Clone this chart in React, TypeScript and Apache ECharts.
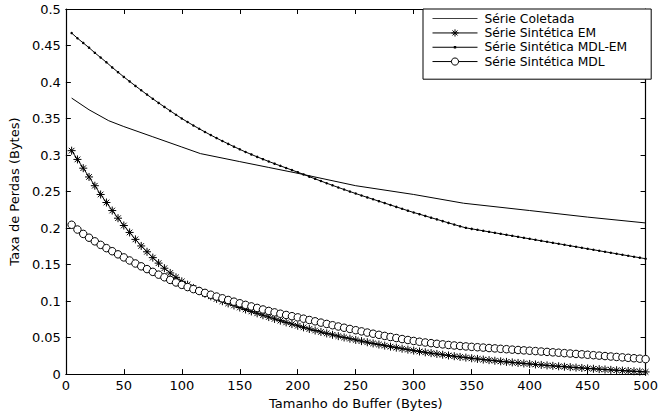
import React, { useEffect, useRef } from "react";
import * as echarts from "echarts";

const seriesNames = [
  "Série Coletada",
  "Série Sintética EM",
  "Série Sintética MDL-EM",
  "Série Sintética MDL",
];

const bufferSizes = [
  5, 10, 15, 20, 25, 30, 35, 40, 45, 50,
  55, 60, 65, 70, 75, 80, 85, 90, 95, 100,
  105, 110, 115, 120, 125, 130, 135, 140, 145, 150,
  155, 160, 165, 170, 175, 180, 185, 190, 195, 200,
  205, 210, 215, 220, 225, 230, 235, 240, 245, 250,
  255, 260, 265, 270, 275, 280, 285, 290, 295, 300,
  305, 310, 315, 320, 325, 330, 335, 340, 345, 350,
  355, 360, 365, 370, 375, 380, 385, 390, 395, 400,
  405, 410, 415, 420, 425, 430, 435, 440, 445, 450,
  455, 460, 465, 470, 475, 480, 485, 490, 495, 500,
];

const coletadaX = [5, 20, 37, 50, 75, 100, 116, 150, 175, 200, 250, 300, 343, 400, 450, 500];
const coletadaY = [0.378, 0.362, 0.347, 0.339, 0.325, 0.311, 0.302, 0.291, 0.283, 0.275, 0.258, 0.246, 0.234, 0.224, 0.215, 0.207];

const emValues = [
  0.306, 0.294, 0.282, 0.27, 0.258, 0.246, 0.235, 0.224, 0.2135, 0.2035,
  0.194, 0.1845, 0.1755, 0.1675, 0.1595, 0.152, 0.145, 0.1385, 0.1325, 0.127,
  0.1225, 0.118, 0.114, 0.11, 0.1065, 0.103, 0.0998, 0.0968, 0.094, 0.0912,
  0.0885, 0.0858, 0.0832, 0.0806, 0.0781, 0.0756, 0.0732, 0.0708, 0.0685, 0.0662,
  0.064, 0.0618, 0.0597, 0.0577, 0.0557, 0.0538, 0.052, 0.0502, 0.0485, 0.0468,
  0.0452, 0.0436, 0.042, 0.0405, 0.039, 0.0376, 0.0362, 0.0348, 0.0335, 0.0322,
  0.031, 0.0298, 0.0287, 0.0276, 0.0265, 0.0255, 0.0245, 0.0235, 0.0226, 0.0217,
  0.0208, 0.0199, 0.0191, 0.0183, 0.0175, 0.0167, 0.016, 0.0153, 0.0146, 0.0139,
  0.0132, 0.0126, 0.0119, 0.0113, 0.0107, 0.0101, 0.0095, 0.0089, 0.0084, 0.0078,
  0.0073, 0.0068, 0.0063, 0.0058, 0.0053, 0.0048, 0.0043, 0.0039, 0.0034, 0.003,
];

const mdlEmValues = [
  0.467, 0.46, 0.4535, 0.447, 0.44, 0.4335, 0.427, 0.42, 0.4135, 0.407,
  0.4008, 0.3947, 0.3887, 0.3828, 0.377, 0.3714, 0.3659, 0.3605, 0.3552, 0.35,
  0.3452, 0.3405, 0.336, 0.3316, 0.3273, 0.3232, 0.3192, 0.3153, 0.3115, 0.3078,
  0.3042, 0.3008, 0.2975, 0.2943, 0.2912, 0.2882, 0.2852, 0.2823, 0.2794, 0.2765,
  0.2735, 0.2704, 0.2674, 0.2644, 0.2614, 0.2585, 0.2556, 0.2528, 0.25, 0.2473,
  0.2446, 0.242, 0.2394, 0.2368, 0.2342, 0.2316, 0.229, 0.2264, 0.2238, 0.2213,
  0.219, 0.2166, 0.2142, 0.2119, 0.2095, 0.2071, 0.2048, 0.2024, 0.2003, 0.1989,
  0.1976, 0.1962, 0.1948, 0.1935, 0.1921, 0.1907, 0.1894, 0.188, 0.1866, 0.1853,
  0.1839, 0.1825, 0.1812, 0.1798, 0.1785, 0.1771, 0.1757, 0.1744, 0.173, 0.1716,
  0.1703, 0.1689, 0.1675, 0.1662, 0.1648, 0.1634, 0.1621, 0.1607, 0.1594, 0.158,
];

const mdlValues = [
  0.2045, 0.198, 0.192, 0.1868, 0.1818, 0.177, 0.1725, 0.1683, 0.164, 0.1598,
  0.1556, 0.1515, 0.1476, 0.1438, 0.14, 0.1362, 0.1326, 0.129, 0.1255, 0.1222,
  0.1192, 0.1164, 0.1138, 0.1112, 0.1087, 0.1062, 0.1038, 0.1015, 0.0992, 0.097,
  0.0948, 0.0927, 0.0906, 0.0885, 0.0865, 0.0845, 0.0827, 0.081, 0.0793, 0.0777,
  0.0759, 0.0741, 0.0723, 0.0705, 0.0687, 0.0669, 0.0652, 0.0635, 0.0618, 0.0601,
  0.0585, 0.0569, 0.0553, 0.0538, 0.0523, 0.0508, 0.0494, 0.048, 0.0467, 0.0454,
  0.0443, 0.0433, 0.0424, 0.0415, 0.0407, 0.0399, 0.0392, 0.0385, 0.0379, 0.0373,
  0.0368, 0.0363, 0.0357, 0.0352, 0.0346, 0.0341, 0.0335, 0.033, 0.0325, 0.032,
  0.0315, 0.0309, 0.0304, 0.0298, 0.0293, 0.0287, 0.0282, 0.0276, 0.0271, 0.0265,
  0.0259, 0.0253, 0.0247, 0.0241, 0.0235, 0.0229, 0.0223, 0.0217, 0.0211, 0.0205,
];

const xTitle = "Tamanho do Buffer (Bytes)";
const yTitle = "Taxa de Perdas (Bytes)";

const FONT = "DejaVu Sans";
const asterisk =
  "path://M5 0 L5 10 M0 5 L10 5 M1.5 1.5 L8.5 8.5 M1.5 8.5 L8.5 1.5";
// legend icons (45 x 9 box): a plain line, and a line with a small dot
const plainLineIcon = "path://M0 0 L0 0 M0 9 L0 9 M0 4.1 L45 4.1 L45 4.9 L0 4.9 Z";
const dotLineIcon =
  "path://M0 0 L0 0 M0 9 L0 9 M0 4.1 L45 4.1 L45 4.9 L0 4.9 Z M21.3 3.3 L23.7 3.3 L23.7 5.7 L21.3 5.7 Z";

function pairs(xs: number[], ys: number[]) {
  return xs.map((x, i) => [x, ys[i]]);
}

export default function App() {
  const ref = useRef<HTMLDivElement>(null);
  useEffect(() => {
    if (!ref.current) return;
    const chart = echarts.init(ref.current, undefined, { renderer: "svg" });
    const axisLine = { show: true, onZero: false, lineStyle: { color: "#000", width: 1.2 } };
    const axisTick = { show: true, inside: true, length: 5, lineStyle: { color: "#000", width: 1 } };
    const baseLine = { color: "#000", width: 1 };
    chart.setOption({
      animation: false,
      backgroundColor: "#fff",
      textStyle: { fontFamily: FONT },
      grid: { left: 63, right: 12, top: 9, bottom: 37 },
      legend: {
        data: [
          { name: seriesNames[0], icon: plainLineIcon, itemStyle: { borderWidth: 0 } },
          { name: seriesNames[1] },
          { name: seriesNames[2], icon: dotLineIcon, itemStyle: { borderWidth: 0 } },
          { name: seriesNames[3] },
        ],
        orient: "vertical",
        left: 423,
        top: 9,
        backgroundColor: "#fff",
        borderColor: "#000",
        borderWidth: 1,
        borderRadius: 0,
        padding: [3, 24, 11, 9],
        itemWidth: 45,
        itemHeight: 9,
        itemGap: 1,
        symbolKeepAspect: false,
        selectedMode: false,
        lineStyle: { width: 1, color: "#000" },
        itemStyle: { borderWidth: 1 },
        textStyle: {
          fontSize: 12.3,
          lineHeight: 13.3,
          color: "#000",
          fontFamily: FONT,
          padding: [0, 0, 0, 2],
        },
      },
      xAxis: [
        {
          type: "value",
          min: 0,
          max: 500,
          interval: 50,
          position: "bottom",
          name: xTitle,
          nameLocation: "middle",
          nameGap: 20,
          nameTextStyle: { fontSize: 13, color: "#000", fontFamily: FONT },
          axisLine,
          axisTick,
          axisLabel: { color: "#000", fontSize: 13, margin: 5, fontFamily: FONT },
          splitLine: { show: false },
        },
        {
          type: "value",
          min: 0,
          max: 500,
          interval: 50,
          position: "top",
          axisLine,
          axisTick,
          axisLabel: { show: false },
          splitLine: { show: false },
        },
      ],
      yAxis: [
        {
          type: "value",
          min: 0,
          max: 0.5,
          interval: 0.05,
          position: "left",
          name: yTitle,
          nameLocation: "middle",
          nameGap: 42,
          nameTextStyle: { fontSize: 13, color: "#000", fontFamily: FONT },
          axisLine,
          axisTick,
          axisLabel: { color: "#000", fontSize: 13, margin: 5, fontFamily: FONT },
          splitLine: { show: false },
        },
        {
          type: "value",
          min: 0,
          max: 0.5,
          interval: 0.05,
          position: "right",
          axisLine,
          axisTick,
          axisLabel: { show: false },
          splitLine: { show: false },
        },
      ],
      series: [
        {
          name: seriesNames[0],
          type: "line",
          color: "#000",
          data: pairs(coletadaX, coletadaY),
          symbol: "none",
          itemStyle: { color: "#000" },
          lineStyle: baseLine,
        },
        {
          name: seriesNames[1],
          type: "line",
          color: "#000",
          data: pairs(bufferSizes, emValues),
          symbol: asterisk,
          symbolSize: 8,
          showAllSymbol: true,
          itemStyle: { color: "#000", borderColor: "#000", borderWidth: 1 },
          lineStyle: baseLine,
        },
        {
          name: seriesNames[2],
          type: "line",
          color: "#000",
          data: pairs(bufferSizes, mdlEmValues),
          symbol: "circle",
          symbolSize: 2.5,
          showAllSymbol: true,
          itemStyle: { color: "#000" },
          lineStyle: baseLine,
        },
        {
          name: seriesNames[3],
          type: "line",
          color: "#000",
          data: pairs(bufferSizes, mdlValues),
          symbol: "circle",
          symbolSize: 7.5,
          showAllSymbol: true,
          itemStyle: { color: "#fff", borderColor: "#000", borderWidth: 1 },
          lineStyle: baseLine,
        },
      ],
    });
    return () => chart.dispose();
  }, []);
  return (
    <div
      ref={ref}
      style={{ position: "fixed", left: 0, top: 0, width: 661, height: 415 }}
    />
  );
}
